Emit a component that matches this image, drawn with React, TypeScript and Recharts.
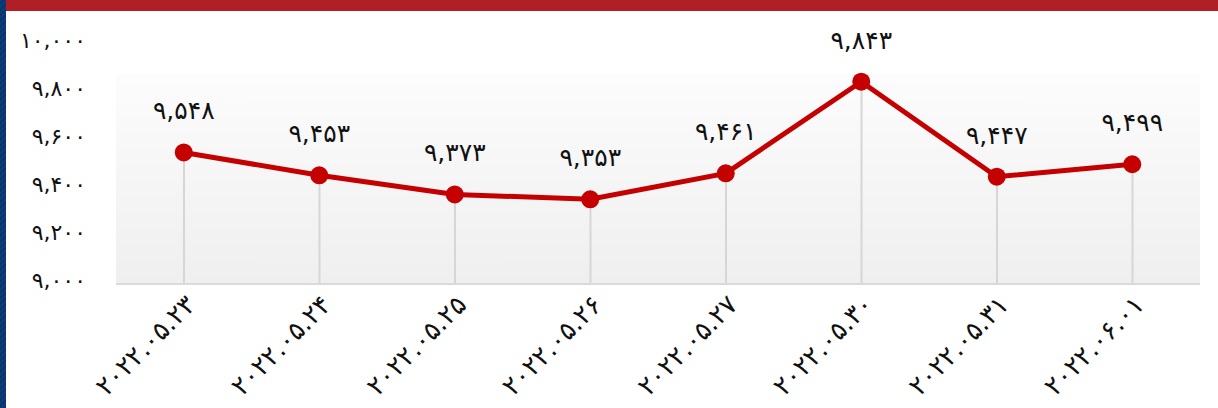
import { Bar, CartesianGrid, ComposedChart, LabelList, Line, XAxis, YAxis } from "recharts";

const dates = [
  "۲۰۲۲.۰۵.۲۳",
  "۲۰۲۲.۰۵.۲۴",
  "۲۰۲۲.۰۵.۲۵",
  "۲۰۲۲.۰۵.۲۶",
  "۲۰۲۲.۰۵.۲۷",
  "۲۰۲۲.۰۵.۳۰",
  "۲۰۲۲.۰۵.۳۱",
  "۲۰۲۲.۰۶.۰۱",
];
const prices = [9548, 9453, 9373, 9353, 9461, 9843, 9447, 9499];
const yTicks = [9000, 9200, 9400, 9600, 9800, 10000];

const data = dates.map((date, i) => ({ date, price: prices[i] }));

const FONT = "'DejaVu Sans', sans-serif";

function toPersian(n: number) {
  return n
    .toLocaleString("en-US")
    .replace(/\d/g, (d) => String.fromCharCode(0x06f0 + Number(d)));
}

function DateTick(props: any) {
  const { x, y, payload } = props;
  return (
    <g transform={`translate(${x + 7},${y + 8})`}>
      <text
        transform="rotate(-45)"
        textAnchor="end"
        dominantBaseline="central"
        fontFamily={FONT}
        fontSize={26}
        fill="#111"
      >
        {payload.value}
      </text>
    </g>
  );
}

export default function App() {
  return (
    <div
      style={{
        position: "absolute",
        left: 0,
        top: 0,
        width: 1218,
        height: 408,
        background: "#fff",
        overflow: "hidden",
      }}
    >
      <div
        style={{
          position: "absolute",
          left: 0,
          top: 0,
          width: 6,
          height: 408,
          background:
            "repeating-linear-gradient(135deg, #0d3c7a 0px, #0d3c7a 2px, #0a346c 2px, #0a346c 4px)",
        }}
      />
      <div
        style={{
          position: "absolute",
          left: 6,
          top: 0,
          width: 1212,
          height: 11,
          background: "#b11f26",
        }}
      />
      <div style={{ position: "absolute", left: 0, top: 0 }}>
        <ComposedChart
          width={1218}
          height={408}
          data={data}
          margin={{ top: 44, right: 18, left: 36, bottom: 0 }}
        >
          <defs>
            <linearGradient id="plotBg" x1="0" y1="0" x2="0" y2="1">
              <stop offset="0%" stopColor="#ffffff" />
              <stop offset="12%" stopColor="#ffffff" />
              <stop offset="12.5%" stopColor="#fcfcfc" />
              <stop offset="100%" stopColor="#efefef" />
            </linearGradient>
          </defs>
          <CartesianGrid horizontal={false} vertical={false} fill="url(#plotBg)" />
          <XAxis
            dataKey="date"
            height={124}
            interval={0}
            tickLine={false}
            axisLine={{ stroke: "#dadada", strokeWidth: 2 }}
            tick={<DateTick />}
          />
          <YAxis
            width={80}
            domain={[9000, 10000]}
            ticks={yTicks}
            axisLine={false}
            tickLine={false}
            tickSize={0}
            tickMargin={30}
            tickFormatter={(v: number) => toPersian(v)}
            tick={{ fill: "#111", fontSize: 22, fontFamily: FONT, dy: -4 }}
          />
          <Bar dataKey="price" barSize={2} fill="#d6d6d6" isAnimationActive={false} />
          <Line
            dataKey="price"
            type="linear"
            stroke="#c40000"
            strokeWidth={5}
            dot={{ r: 9, fill: "#c40000", stroke: "none" }}
            activeDot={false}
            isAnimationActive={false}
          >
            <LabelList
              dataKey="price"
              position="top"
              offset={33}
              formatter={(v: any) => toPersian(Number(v))}
              style={{ fill: "#111", fontSize: 25, fontFamily: FONT }}
            />
          </Line>
        </ComposedChart>
      </div>
    </div>
  );
}
